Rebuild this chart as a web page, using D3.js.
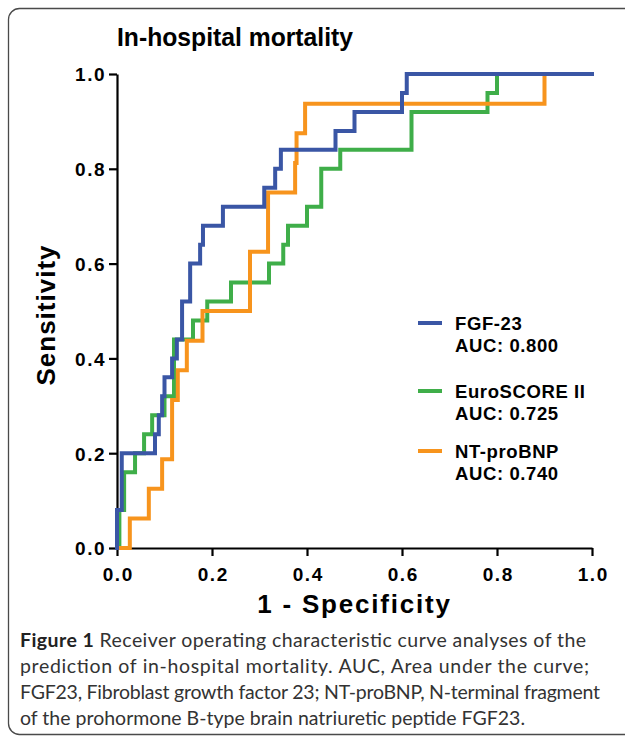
<!DOCTYPE html>
<html>
<head>
<meta charset="utf-8">
<script src="https://cdn.jsdelivr.net/npm/d3@7"></script>
<style>
  html, body { margin: 0; padding: 0; background: #fff; }
  svg { display: block; }
</style>
</head>
<body>
<svg id="chart" width="625" height="739"></svg>
<script>
// ---------- data ----------
const title = "In-hospital mortality";
const xAxisTitle = "1 - Specificity";
const yAxisTitle = "Sensitivity";
const xTickValues = [0, 0.2, 0.4, 0.6, 0.8, 1.0];
const yTickValues = [0, 0.2, 0.4, 0.6, 0.8, 1.0];

const seriesNames = ["FGF-23", "EuroSCORE II", "NT-proBNP"];
const seriesAUC = ["AUC: 0.800", "AUC: 0.725", "AUC: 0.740"];
const seriesColors = ["#3a56a5", "#3fae49", "#f7941d"];

// ROC step points (1 - specificity, sensitivity)
const fgf23Fpr = [0, 0, 0.01, 0.08, 0.088, 0.095, 0.10, 0.116, 0.126, 0.137, 0.154, 0.175, 0.181, 0.223, 0.31, 0.333, 0.345, 0.46, 0.50, 0.60, 0.61, 1.0];
const fgf23Tpr = [0, 0.08, 0.20, 0.24, 0.28, 0.32, 0.36, 0.40, 0.44, 0.52, 0.60, 0.64, 0.68, 0.72, 0.76, 0.80, 0.84, 0.88, 0.92, 0.96, 1.0, 1.0];

const euroFpr = [0, 0.005, 0.015, 0.038, 0.057, 0.074, 0.10, 0.12, 0.16, 0.19, 0.24, 0.32, 0.35, 0.36, 0.40, 0.43, 0.47, 0.62, 0.78, 0.80, 1.0];
const euroTpr = [0, 0.08, 0.16, 0.20, 0.24, 0.28, 0.32, 0.44, 0.48, 0.52, 0.56, 0.60, 0.64, 0.68, 0.72, 0.80, 0.84, 0.92, 0.96, 1.0, 1.0];

const bnpFpr = [0, 0.027, 0.067, 0.095, 0.116, 0.128, 0.147, 0.18, 0.28, 0.318, 0.375, 0.378, 0.396, 0.90, 1.0];
const bnpTpr = [0, 0.0625, 0.125, 0.1875, 0.3125, 0.375, 0.4375, 0.5, 0.625, 0.75, 0.8125, 0.875, 0.9375, 1.0, 1.0];

const captionBold = "Figure 1";
const captionLines = [
  " Receiver operating characteristic curve analyses of the",
  "prediction of in-hospital mortality. AUC, Area under the curve;",
  "FGF23, Fibroblast growth factor 23; NT-proBNP, N-terminal fragment",
  "of the prohormone B-type brain natriuretic peptide FGF23."
];

// ---------- layout ----------
const svg = d3.select("#chart");
const plotLeft = 117, plotRight = 592, plotTop = 74, plotBottom = 548;

const x = d3.scaleLinear().domain([0, 1]).range([plotLeft, plotRight]);
const y = d3.scaleLinear().domain([0, 1]).range([plotBottom, plotTop]);

// frame
svg.append("rect")
  .attr("x", 8.5).attr("y", 8.5)
  .attr("width", 640).attr("height", 726)
  .attr("rx", 11).attr("ry", 11)
  .attr("fill", "none").attr("stroke", "#4a4a4a").attr("stroke-width", 1.3);

const boldFont = "'Liberation Sans', Arial, Helvetica, sans-serif";

// title
svg.append("text")
  .attr("x", 117).attr("y", 46)
  .attr("font-family", boldFont).attr("font-weight", "bold")
  .attr("font-size", 25)
  .attr("textLength", 236).attr("lengthAdjust", "spacingAndGlyphs")
  .attr("fill", "#000")
  .text(title);

// axes
const xAxis = d3.axisBottom(x).tickValues(xTickValues).tickFormat(d3.format(".1f")).tickSize(8).tickSizeOuter(0);
const yAxis = d3.axisLeft(y).tickValues(yTickValues).tickFormat(d3.format(".1f")).tickSize(8).tickSizeOuter(0);

const gx = svg.append("g").attr("transform", `translate(0,${plotBottom})`).call(xAxis);
const gy = svg.append("g").attr("transform", `translate(${plotLeft},0)`).call(yAxis);

[gx, gy].forEach(g => {
  g.select(".domain").attr("stroke", "#000").attr("stroke-width", 2.2);
  g.selectAll(".tick line").attr("stroke", "#000").attr("stroke-width", 2.2);
  g.selectAll(".tick text")
    .attr("font-family", boldFont).attr("font-weight", "bold")
    .attr("font-size", 19).attr("fill", "#000")
    .style("letter-spacing", "1.5px");
});
gx.selectAll(".tick text").attr("dy", null).attr("y", 33).attr("dx", "0.75px");
gy.selectAll(".tick text").attr("x", -11).attr("dy", "0.36em");

// axis titles
svg.append("text")
  .attr("x", (plotLeft + plotRight) / 2).attr("y", 613)
  .attr("text-anchor", "middle")
  .attr("font-family", boldFont).attr("font-weight", "bold")
  .attr("font-size", 26).style("letter-spacing", "1.8px")
  .attr("fill", "#000")
  .text(xAxisTitle);

svg.append("text")
  .attr("transform", `translate(55,${(plotTop + plotBottom) / 2 + 4}) rotate(-90)`)
  .attr("text-anchor", "middle")
  .attr("font-family", boldFont).attr("font-weight", "bold")
  .attr("font-size", 26).style("letter-spacing", "1px")
  .attr("fill", "#000")
  .text(yAxisTitle);

// curves
const line = d3.line()
  .x(d => x(d[0])).y(d => y(d[1]))
  .curve(d3.curveStepAfter);

const series = [
  { fpr: euroFpr, tpr: euroTpr, color: seriesColors[1] },
  { fpr: bnpFpr, tpr: bnpTpr, color: seriesColors[2] },
  { fpr: fgf23Fpr, tpr: fgf23Tpr, color: seriesColors[0] }
];

series.forEach(s => {
  const pts = s.fpr.map((f, i) => [f, s.tpr[i]]);
  svg.append("path")
    .datum(pts)
    .attr("d", line)
    .attr("fill", "none")
    .attr("stroke", s.color)
    .attr("stroke-width", 4)
    .attr("stroke-linejoin", "miter")
    .attr("stroke-linecap", "square");
});

// legend
const legendY = [330, 398, 458];
seriesNames.forEach((name, i) => {
  const g = svg.append("g");
  g.append("line")
    .attr("x1", 418).attr("x2", 442)
    .attr("y1", legendY[i] - 7).attr("y2", legendY[i] - 7)
    .attr("stroke", seriesColors[i]).attr("stroke-width", 4);
  g.append("text")
    .attr("x", 455).attr("y", legendY[i])
    .attr("font-family", boldFont).attr("font-weight", "bold")
    .attr("font-size", 18.5).style("letter-spacing", "0.6px")
    .attr("fill", "#000")
    .text(name);
  g.append("text")
    .attr("x", 455).attr("y", legendY[i] + 22)
    .attr("font-family", boldFont).attr("font-weight", "bold")
    .attr("font-size", 18.5).style("letter-spacing", "0.6px")
    .attr("fill", "#000")
    .text(seriesAUC[i]);
});

// caption
const capFont = "Lato, 'Open Sans', sans-serif";
const capBase = [647, 673, 699, 725];
const capWidths = [566, 569, 580, 505];
captionLines.forEach((txt, i) => {
  const t = svg.append("text")
    .attr("x", 20).attr("y", capBase[i])
    .attr("font-family", capFont).attr("font-size", 19.5)
    .attr("fill", "#333")
    .attr("textLength", capWidths[i]).attr("lengthAdjust", "spacing");
  if (i === 0) {
    t.append("tspan").attr("font-weight", "bold").attr("fill", "#222").text(captionBold);
  }
  t.append("tspan").text(txt);
});
</script>
</body>
</html>
